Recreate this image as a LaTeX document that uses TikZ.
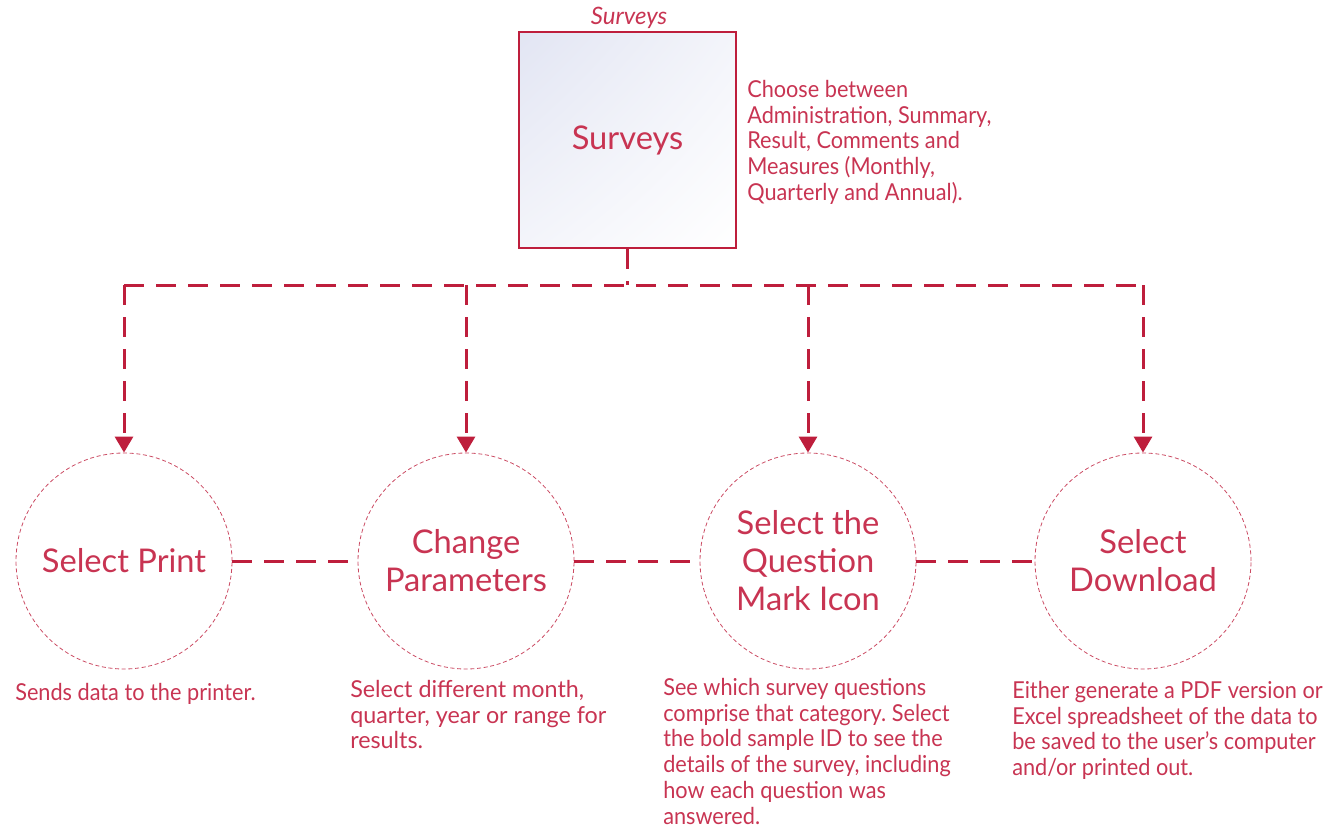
\documentclass[tikz,border=0pt]{standalone}
\usepackage{fontspec}
\setmainfont{Lato}
\newfontfamily\narrowfont[FakeStretch=0.93]{Lato}
\usepackage{tikz}
\usetikzlibrary{shapes,arrows,arrows.meta,shadings,positioning}
\frenchspacing

\definecolor{SurvRed}{RGB}{190,30,60}
\definecolor{SurvText}{RGB}{200,52,82}
\definecolor{SurvLav}{RGB}{226,229,243}

\begin{document}
\begin{tikzpicture}[x=0.75pt, y=-0.75pt]
		\tikzstyle{Box}		= [draw=SurvRed, line width=1.5pt, minimum width=163pt, minimum height=162pt, inner sep=0pt,
					   upper left=SurvLav, upper right=white!60!SurvLav, lower left=white!60!SurvLav, lower right=white,
					   text=SurvText, font=\fontsize{24.5}{28.5}\selectfont]
		\tikzstyle{Step}	= [circle, draw=SurvRed!80, densely dashed, line width=0.6pt, minimum size=162pt, inner sep=0pt,
					   align=center, text=SurvText, font=\fontsize{24.5}{28.5}\selectfont]
		\tikzstyle{Note}	= [anchor=north west, inner sep=0pt, align=left, text=SurvText, font=\fontsize{17.5}{19.3}\narrowfont]
		\tikzstyle{WideNote}	= [Note, font=\fontsize{17.5}{19.3}\selectfont]
		\tikzstyle{Link}	= [draw=SurvRed, line width=2.25pt, dash pattern=on 15pt off 9pt]
		\tikzstyle{Feed}	= [Link, -{Triangle[width=13.5pt, length=12pt]}]
		
		\useasboundingbox (0,0) rectangle (1327,827);
		
		% top box
		\node (surveys) at (627.5,140) [Box] {Surveys};
		\node (surveysTitle) at (629,18) [text=SurvText, font=\fontsize{18}{20}\selectfont\itshape] {Surveys};
		\node (surveysNote) at (747,80) [Note] {Choose between\\Administration, Summary,\\Result, Comments and\\Measures (Monthly,\\Quarterly and Annual).};
		
		% steps
		\node (print) at (124,561) [Step] {Select Print};
		\node (params) at (466,561) [Step] {Change\\Parameters};
		\node (question) at (808,561) [Step] {Select the\\Question\\Mark Icon};
		\node (download) at (1143,561) [Step] {Select\\Download};
		
		\node (printNote) at (15,683) [Note] {Sends data to the printer.};
		\node (paramsNote) at (350,680) [WideNote] {Select different month,\\quarter, year or range for\\results.};
		\node (questionNote) at (663,678) [Note] {See which survey questions\\comprise that category. Select\\the bold sample ID to see the\\details of the survey, including\\how each question was\\answered.};
		\node (downloadNote) at (1012,681) [Note] {Either generate a PDF version or\\Excel spreadsheet of the data to\\be saved to the user’s computer\\and/or printed out.};
		
		% bus
		\coordinate (busMid) at (627.5,285);
		\coordinate (busPrint) at (124,285);
		\coordinate (busParams) at (466,285);
		\coordinate (busQuestion) at (808,285);
		\coordinate (busDownload) at (1143,285);
		
		\draw [-] (surveys) to (busMid) [Link];
		\draw [-] (busPrint) to (busDownload) [Link];
		\draw (busPrint) to (print) [Feed];
		\draw (busParams) to (params) [Feed];
		\draw (busQuestion) to (question) [Feed];
		\draw (busDownload) to (download) [Feed];
		
		\draw [-] (print) to (params) [Link];
		\draw [-] (params) to (question) [Link];
		\draw [-] (question) to (download) [Link];
	\end{tikzpicture}
\end{document}
